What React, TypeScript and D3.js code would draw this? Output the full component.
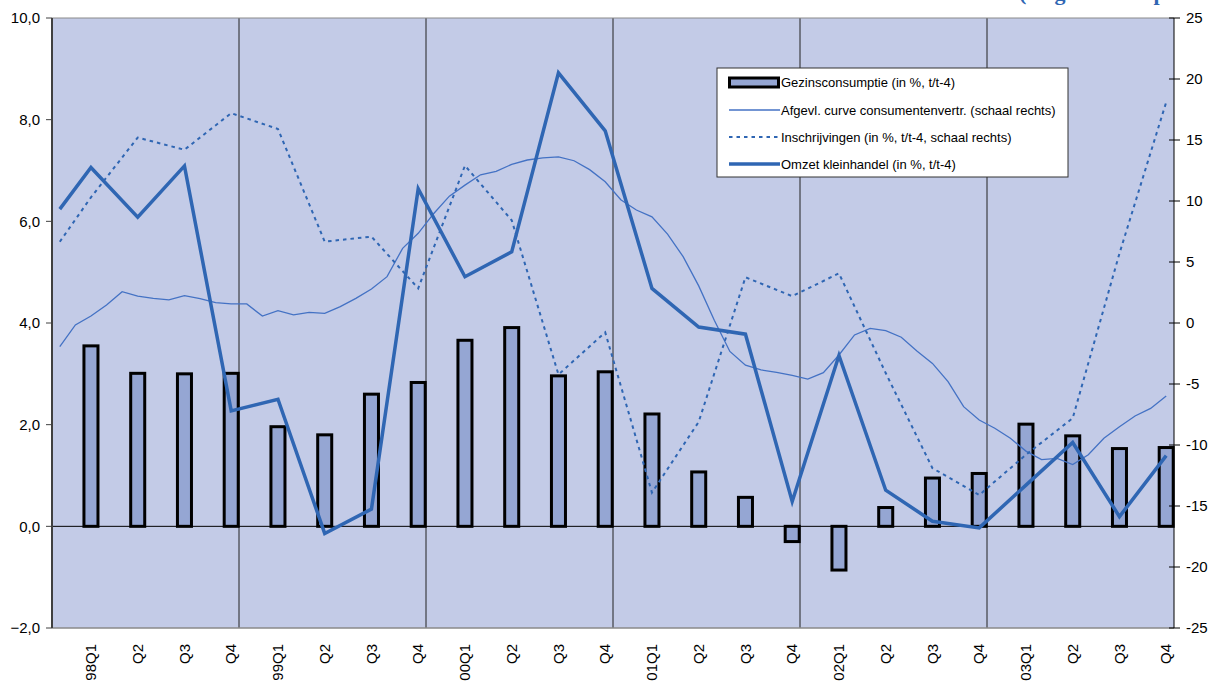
import React from "react";
import * as d3 from "d3";

// ---- categories ----
const quarterLabels = [
  "98Q1", "Q2", "Q3", "Q4", "99Q1", "Q2", "Q3", "Q4",
  "00Q1", "Q2", "Q3", "Q4", "01Q1", "Q2", "Q3", "Q4",
  "02Q1", "Q2", "Q3", "Q4", "03Q1", "Q2", "Q3", "Q4",
];
// monthly categories 1998-01 .. 2003-12
const months: string[] = [];
for (let y = 1998; y <= 2003; y++) for (let m = 1; m <= 12; m++) months.push(`${y}-${String(m).padStart(2, "0")}`);
// month of each quarter (quarter end)
const quarterMonths = quarterLabels.map((_, i) => months[i * 3 + 2]);

// ---- series ----
const gezinsconsumptie = [
  3.55, 3.01, 3.0, 3.01, 1.96, 1.8, 2.6, 2.83,
  3.66, 3.91, 2.96, 3.04, 2.21, 1.07, 0.57, -0.3,
  -0.86, 0.37, 0.95, 1.04, 2.01, 1.78, 1.53, 1.55,
];
const omzetStart = 6.24; // value at first month
const omzet = [
  7.06, 6.08, 7.09, 2.27, 2.5, -0.14, 0.34, 6.64,
  4.91, 5.4, 8.92, 7.78, 4.68, 3.92, 3.78, 0.49,
  3.36, 0.71, 0.1, -0.03, 0.81, 1.65, 0.19, 1.39,
];
const inschrijvingenStart = 6.66;
const inschrijvingen = [
  10.3, 15.2, 14.2, 17.2, 15.9, 6.67, 7.08, 2.84,
  12.9, 8.42, -4.22, -0.77, -13.9, -8.1, 3.75, 2.2,
  4.07, -4.1, -11.9, -14.1, -10.8, -7.8, 5.7, 18.1,
];
const consumentenvertrouwen = [
  -1.94, -0.16, 0.57, 1.48, 2.57, 2.21, 2.02, 1.89, 2.24, 2.0, 1.67, 1.56,
  1.56, 0.57, 1.01, 0.66, 0.87, 0.79, 1.34, 2.02, 2.79, 3.8, 6.12, 7.35,
  8.98, 10.4, 11.3, 12.15, 12.43, 13.0, 13.36, 13.53, 13.61, 13.3, 12.57, 11.58,
  10.1, 9.26, 8.7, 7.29, 5.44, 3.04, 0.22, -2.33, -3.46, -3.85, -4.05, -4.3,
  -4.6, -4.07, -2.62, -0.98, -0.44, -0.63, -1.17, -2.3, -3.31, -4.81, -6.86, -7.95,
  -8.63, -9.45, -10.5, -11.2, -11.1, -11.6, -10.8, -9.45, -8.5, -7.62, -7.0, -5.98,
];

const leftTicks = [-2, 0, 2, 4, 6, 8, 10];
const rightTicks = [-25, -20, -15, -10, -5, 0, 5, 10, 15, 20, 25];
const legendLabels = [
  "Gezinsconsumptie (in %, t/t-4)",
  "Afgevl. curve consumentenvertr. (schaal rechts)",
  "Inschrijvingen (in %, t/t-4, schaal rechts)",
  "Omzet kleinhandel (in %, t/t-4)",
];
const titleText = "(volgens tabel p";

// ---- layout ----
const W = 1215, H = 684;
const L = 52, R = 1174, T = 18, B = 628;
const FONT = "'Liberation Sans', Arial, sans-serif";
const LINE = "#2F66B3";

export default function App() {
  const x = d3.scaleBand<string>().domain(months).range([L, R]).padding(0);
  const cx = (m: string) => (x(m) as number) + x.bandwidth() / 2;
  const yL = d3.scaleLinear().domain([-2, 10]).range([B, T]);
  const yR = d3.scaleLinear().domain([-25, 25]).range([B, T]);
  const fmt = (v: number) => d3.format(".1f")(v).replace(".", ",");

  const omzetPts: [string, number][] = [[months[0], omzetStart], ...quarterMonths.map((m, i) => [m, omzet[i]] as [string, number])];
  const inschPts: [string, number][] = [[months[0], inschrijvingenStart], ...quarterMonths.map((m, i) => [m, inschrijvingen[i]] as [string, number])];
  const lineL = d3.line<[string, number]>().x((d) => cx(d[0])).y((d) => yL(d[1]));
  const lineR = d3.line<[string, number]>().x((d) => cx(d[0])).y((d) => yR(d[1]));
  const thinPts = months.map((m, i) => [m, consumentenvertrouwen[i]] as [string, number]);

  const barW = x.bandwidth() * 0.9;
  const yearLines = months.filter((m, i) => i > 0 && i % 12 === 0).map((m) => x(m) as number);

  const lg = { x: 717, y: 68, w: 351, h: 109 };
  const lgRows = [82.5, 110, 137, 164];

  return (
    <svg width={W} height={H} style={{ position: "fixed", left: 0, top: 0, background: "#fff" }} fontFamily={FONT}>
      <text x={1019} y={-0.5} fontFamily="'Liberation Serif', 'Times New Roman', serif" fontWeight="bold" fontSize={22} fill="#2F66B3">{titleText}</text>
      <rect x={L} y={T} width={R - L} height={B - T} fill="#C3CBE7" />
      {yearLines.map((gx, i) => (
        <line key={i} x1={gx} x2={gx} y1={T} y2={B} stroke="#222" strokeWidth={1} />
      ))}
      {/* bars */}
      {gezinsconsumptie.map((v, i) => {
        const m = quarterMonths[i];
        const y0 = yL(0), y1 = yL(v);
        return (
          <rect key={i} x={cx(m) - barW / 2} y={Math.min(y0, y1)} width={barW} height={Math.abs(y1 - y0)}
            fill="#95A6D3" stroke="#000" strokeWidth={3} />
        );
      })}
      <line x1={L} x2={R} y1={yL(0)} y2={yL(0)} stroke="#000" strokeWidth={1} />
      {/* lines */}
      <path d={lineR(thinPts) as string} fill="none" stroke="#4472C4" strokeWidth={1.3} />
      <path d={lineR(inschPts) as string} fill="none" stroke={LINE} strokeWidth={2} strokeDasharray="3.5,4" />
      <path d={lineL(omzetPts) as string} fill="none" stroke={LINE} strokeWidth={3.5} strokeLinejoin="miter" />
      {/* frame */}
      <line x1={L} x2={R} y1={T} y2={T} stroke="#8a8a8a" strokeWidth={1} />
      <line x1={L} x2={R} y1={B} y2={B} stroke="#8a8a8a" strokeWidth={1.5} />
      <line x1={L} x2={L} y1={T} y2={B} stroke="#404040" strokeWidth={2} />
      <line x1={R} x2={R} y1={T} y2={B} stroke="#000" strokeWidth={1} />
      {/* left axis */}
      {leftTicks.map((t) => (
        <g key={t}>
          <line x1={L - 6} x2={L} y1={yL(t)} y2={yL(t)} stroke="#404040" strokeWidth={1} />
          <text x={40} y={yL(t)} dy="0.35em" textAnchor="end" fontSize={15} fill="#000">{fmt(t)}</text>
        </g>
      ))}
      {/* right axis */}
      {rightTicks.map((t) => (
        <g key={t}>
          <line x1={R - 5} x2={R + 6} y1={yR(t)} y2={yR(t)} stroke="#000" strokeWidth={1} />
          <text x={1186} y={yR(t)} dy="0.35em" textAnchor="start" fontSize={15} fill="#000">{t}</text>
        </g>
      ))}
      {/* x labels */}
      {quarterLabels.map((q, i) => {
        const px = cx(quarterMonths[i]);
        return (
          <text key={i} transform={`translate(${px},644) rotate(-90)`} textAnchor="end" dy="0.35em" fontSize={15} fill="#000">{q}</text>
        );
      })}
      {/* legend */}
      <rect x={lg.x} y={lg.y} width={lg.w} height={lg.h} fill="#fff" stroke="#333" strokeWidth={1} />
      <rect x={729.5} y={lgRows[0] - 4.5} width={49} height={9} fill="#95A6D3" stroke="#000" strokeWidth={3} />
      <line x1={729} x2={780} y1={lgRows[1]} y2={lgRows[1]} stroke="#4472C4" strokeWidth={1.3} />
      <line x1={729} x2={780} y1={lgRows[2]} y2={lgRows[2]} stroke={LINE} strokeWidth={2} strokeDasharray="3.5,4" />
      <line x1={729} x2={780} y1={lgRows[3]} y2={lgRows[3]} stroke={LINE} strokeWidth={3.5} />
      {legendLabels.map((s, i) => (
        <text key={i} x={781} y={lgRows[i]} dy="0.35em" fontSize={13} fill="#000">{s}</text>
      ))}
    </svg>
  );
}
